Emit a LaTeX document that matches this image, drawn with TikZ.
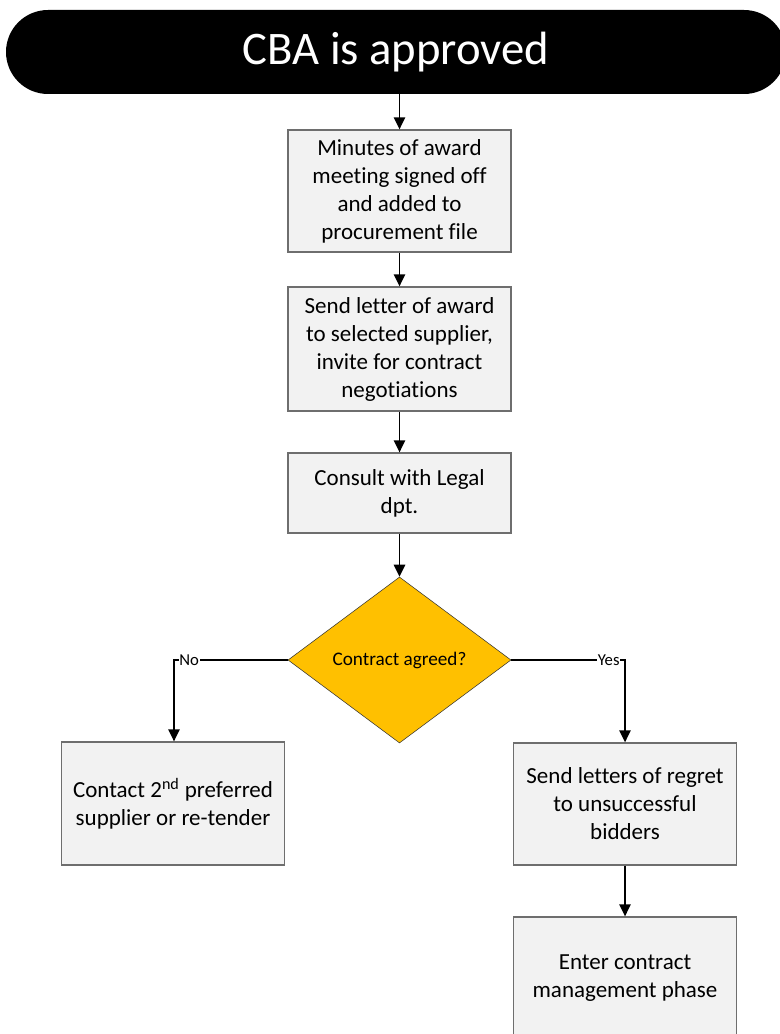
\documentclass[tikz,border=0pt]{standalone}
\usepackage{fontspec}
\setmainfont{Carlito}[Ligatures=NoCommon]
\usepackage{tikz}
\usetikzlibrary{arrows.meta,shapes.geometric,positioning}
\definecolor{boxgray}{RGB}{242,242,242}
\definecolor{boxline}{RGB}{110,110,110}
\definecolor{decyellow}{RGB}{255,192,0}
\tikzstyle{decision} = [diamond, aspect=1.34, minimum width=167.25pt, minimum height=124.5pt, inner sep=0pt, text centered, draw=black!80, fill=decyellow, font=\fontsize{14.4}{17}\selectfont]
\tikzstyle{arrow} = [line width=1.2pt,-{Triangle[length=9pt,width=8.5pt]},color=black]

\begin{document}
\begin{tikzpicture}[
    x=0.75pt, y=-0.75pt,
    every node/.style={font=\fontsize{17.25}{21}\selectfont},
    box/.style={rectangle, draw=boxline, line width=1pt, fill=boxgray, minimum width=167.25pt, minimum height=91.5pt, align=center, inner sep=2pt},
    startbox/.style={rectangle, rounded corners=31.5pt, fill=black, text=white, minimum width=585pt, minimum height=63pt, font=\fontsize{35}{42}\selectfont},
    lbl/.style={fill=white, inner sep=0.5pt, font=\fontsize{12.5}{14}\selectfont}
]
\useasboundingbox (0,0) rectangle (779,1034);

% Start
\node[startbox] (start) at (396,52) {CBA is approved};

% Main column
\node[box] (minutes) at (399.5,191) {Minutes of award\\meeting signed off\\and added to\\procurement file};
\node[box, minimum height=93pt] (letter) at (399.5,349) {Send letter of award\\to selected supplier,\\invite for contract\\negotiations};
\node[box, minimum height=60pt] (legal) at (399.5,493) {Consult with Legal\\dpt.};

% Decision
\node[decision] (agreed) at (399.5,660) {Contract agreed?};

% Branches
\node[box, minimum height=92.25pt] (contact) at (173,803.5) {Contact 2\textsuperscript{nd} preferred\\supplier or re-tender};
\node[box] (regret) at (625,804) {Send letters of regret\\to unsuccessful\\bidders};
\node[box, minimum height=92.25pt] (enter) at (625,978.5) {Enter contract\\management phase};

% Arrows
\draw[arrow] (start.south -| minutes.north) -- (minutes);
\draw[arrow] (minutes) -- (letter);
\draw[arrow] (letter) -- (legal);
\draw[arrow] (legal) -- (agreed);
\draw[arrow] (agreed.west) -| node[lbl, pos=0.5, anchor=west, xshift=3pt] {No} (contact.north -| 174,0);
\draw[arrow] (agreed.east) -| node[lbl, pos=0.5, anchor=east, xshift=-3pt] {Yes} (regret.north);
\draw[arrow] (regret) -- (enter);

\end{tikzpicture}
\end{document}
